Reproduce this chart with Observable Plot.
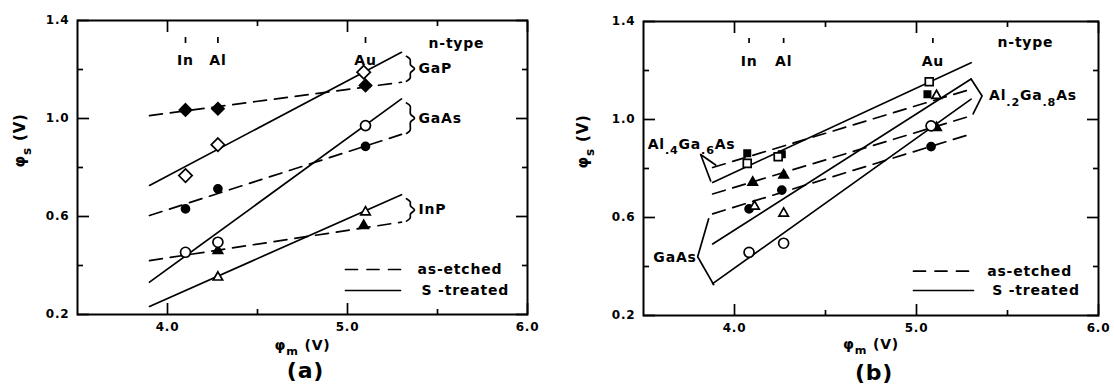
<!DOCTYPE html>
<html><head><meta charset="utf-8">
<script src="https://cdn.jsdelivr.net/npm/d3@7"></script>
<script src="https://cdn.jsdelivr.net/npm/@observablehq/plot@0.6"></script>
<style>
html,body{margin:0;padding:0;background:#fff;}
#wrap{display:flex;width:1114px;height:390px;}
#wrap svg{flex:none;font-family:"DejaVu Sans";}
#wrap svg text{letter-spacing:0.8px;}
</style></head><body><div id="wrap"></div>
<script>
// ---------------- data ----------------
const metals = ["In", "Al", "Au"];
const metalPhiA = [4.10, 4.28, 5.10];
const metalPhiB = [4.08, 4.27, 5.09];
const yTickLabels = [0.2, 0.6, 1.0, 1.4];
const yMinorTicks = [0.4, 0.8, 1.2];
const xTickLabels = [4.0, 5.0, 6.0];
const xMinorTicks = [4.5, 5.5];

// panel (a): fitted lines (x ends, then y at ends)
const fitXa = [3.90, 5.30];
const aGaP_S_fit = [0.727, 1.270];
const aGaP_E_fit = [1.012, 1.148];
const aGaAs_S_fit = [0.332, 1.080];
const aGaAs_E_fit = [0.604, 0.935];
const aInP_S_fit = [0.233, 0.689];
const aInP_E_fit = [0.420, 0.577];
// panel (a): measured points [phi_m, phi_b]
const aGaP_S = [[4.10, 0.767], [4.28, 0.893], [5.09, 1.189]];
const aGaP_E = [[4.10, 1.035], [4.28, 1.040], [5.10, 1.135]];
const aGaAs_S = [[4.10, 0.454], [4.28, 0.495], [5.10, 0.971]];
const aGaAs_E = [[4.10, 0.631], [4.28, 0.713], [5.10, 0.886]];
const aInP_S = [[4.28, 0.352], [5.10, 0.618]];
const aInP_E = [[4.28, 0.461], [5.09, 0.563]];

// panel (b): fitted lines
const fitXb = [3.88, 5.30];
const bAl4_S_fit = [0.743, 1.232];
const bAl4_E_fit = [0.804, 1.124];
const bAl2_S_fit = [0.492, 1.165];
const bAl2_E_fit = [0.696, 1.015];
const bGaAs_S_fit = [0.330, 1.083];
const bGaAs_E_fit = [0.615, 0.941];
// panel (b): measured points
const bAl4_S = [[4.07, 0.821], [4.24, 0.848], [5.07, 1.154]];
const bAl4_E = [[4.07, 0.862], [4.26, 0.858], [5.06, 1.103]];
const bAl2_S = [[4.11, 0.645], [4.27, 0.617], [5.11, 1.097]];
const bAl2_E = [[4.10, 0.743], [4.27, 0.773], [5.11, 0.967]];
const bGaAs_S = [[4.08, 0.458], [4.27, 0.495], [5.08, 0.974]];
const bGaAs_E = [[4.08, 0.635], [4.26, 0.712], [5.08, 0.889]];

// ---------------- layout ----------------
const W = 557, H = 390;
const fmt = d3.format(".1f");
const LW = 1.7;

function fitTable(xs, ys, id) { return xs.map((x, i) => ({id, x, y: ys[i]})); }
function ptTable(arr) { return arr.map(([x, y]) => ({x, y})); }

// frame + inward ticks on all four sides
function frameMarks() {
  const st = {stroke: "black", strokeWidth: LW, label: null, tickFormat: () => ""};
  const m = [Plot.frame({stroke: "black", strokeWidth: 2})];
  for (const anchor of ["left", "right"]) {
    m.push(Plot.axisY({anchor, ticks: yTickLabels, tickSize: -12, ...st}));
    m.push(Plot.axisY({anchor, ticks: yMinorTicks, tickSize: -6, ...st}));
  }
  for (const anchor of ["top", "bottom"]) {
    m.push(Plot.axisX({anchor, ticks: xTickLabels, tickSize: -11, ...st}));
    m.push(Plot.axisX({anchor, ticks: xMinorTicks, tickSize: -5, ...st}));
  }
  m.push(Plot.axisY({anchor: "left", ticks: yTickLabels, tickSize: 0, tickPadding: 8, tickFormat: fmt, label: null, fontSize: 12, fontWeight: "bold"}));
  m.push(Plot.axisX({anchor: "bottom", ticks: xTickLabels, tickSize: 0, tickPadding: 8, tickFormat: fmt, label: null, fontSize: 12, fontWeight: "bold"}));
  return m;
}

function makePanel(cfg) {
  const {ml, mr, mt, mb} = cfg;
  const sx = d3.scaleLinear([3.5, 6], [ml, W - mr]);
  const sy = d3.scaleLinear([0.2, 1.4], [H - mb, mt]);
  const P = (px, py) => ({x: sx.invert(px), y: sy.invert(py)});
  const marks = [...frameMarks()];
  // fitted lines
  const solid = cfg.fits.filter(f => !f.dashed).flatMap(f => fitTable(cfg.fitX, f.v, f.id));
  const dashed = cfg.fits.filter(f => f.dashed).flatMap(f => fitTable(cfg.fitX, f.v, f.id));
  marks.push(Plot.line(solid, {x: "x", y: "y", z: "id", stroke: "black", strokeWidth: LW}));
  marks.push(Plot.line(dashed, {x: "x", y: "y", z: "id", stroke: "black", strokeWidth: LW, strokeDasharray: "13,8"}));
  // markers
  for (const s of cfg.series) {
    marks.push(Plot.dot(ptTable(s.pts), {x: "x", y: "y", symbol: s.symbol, r: s.r, fill: s.fill, stroke: "black", strokeWidth: LW}));
  }
  // brackets
  for (const b of cfg.brackets(sx, sy)) {
    marks.push(Plot.line(b.pts.map(([px, py]) => P(px, py)), {x: "x", y: "y", stroke: "black", strokeWidth: LW, curve: b.curve || "linear"}));
    const lp = P(b.label[0], b.label[1]);
    marks.push(Plot.text([b.text], {x: () => lp.x, y: () => lp.y, text: d => d, textAnchor: b.anchor, fontSize: 14, fontWeight: "bold"}));
  }
  // metal work function markers
  const mt_ = metals.map((m, i) => ({m, x: cfg.metalPhi[i]}));
  marks.push(Plot.ruleX(mt_, {x: "x", insetTop: 17, insetBottom: (H - mb) - 43, stroke: "black", strokeWidth: LW}));
  marks.push(Plot.text(mt_, {x: "x", text: "m", frameAnchor: "top", dy: 35, fontSize: 14, fontWeight: "bold"}));
  // n-type
  marks.push(Plot.text(["n-type"], {frameAnchor: "top-right", textAnchor: "start", dx: cfg.ntype[0], dy: cfg.ntype[1], fontSize: 14, fontWeight: "bold"}));
  // legend
  const L = cfg.legend;
  marks.push(Plot.line([P(L.x1, L.y1), P(L.x2, L.y1)], {x: "x", y: "y", stroke: "black", strokeWidth: LW, strokeDasharray: "12,9.5"}));
  marks.push(Plot.line([P(L.x1, L.y2), P(L.x2, L.y2)], {x: "x", y: "y", stroke: "black", strokeWidth: LW}));
  const t1 = P(L.t1, L.y1), t2 = P(L.t2, L.y2);
  marks.push(Plot.text(["as-etched"], {x: () => t1.x, y: () => t1.y, text: d => d, textAnchor: "start", fontSize: 14, fontWeight: "bold"}));
  marks.push(Plot.text(["S -treated"], {x: () => t2.x, y: () => t2.y, text: d => d, textAnchor: "start", fontSize: 14, fontWeight: "bold"}));
  // axis titles
  marks.push(Plot.text(["φ_{s} (V)"], {frameAnchor: "left", rotate: -90, dx: cfg.ylabDx, fontSize: 15, fontWeight: "bold"}));
  marks.push(Plot.text(["φ_{m} (V)"], {frameAnchor: "bottom", dy: cfg.xlabDy, fontSize: 14, fontWeight: "bold"}));
  marks.push(Plot.text([cfg.tag], {frameAnchor: "bottom", dy: cfg.tagDy, dx: 3, fontSize: 22, fontWeight: "bold"}));
  return Plot.plot({
    width: W, height: H,
    marginLeft: ml, marginRight: mr, marginTop: mt, marginBottom: mb,
    x: {domain: [3.5, 6]}, y: {domain: [0.2, 1.4]},
    marks
  });
}

function brace(x0, yT, yB, w) {
  const m = (yT + yB) / 2;
  return [[x0, yT], [x0 + w * 0.45, yT + 3], [x0 + w * 0.5, m - 4], [x0 + w, m], [x0 + w * 0.5, m + 4], [x0 + w * 0.45, yB - 3], [x0, yB]];
}

const panelA = makePanel({
  ml: 77, mr: 30, mt: 20, mb: 76,
  fitX: fitXa,
  fits: [
    {id: "GaP S", v: aGaP_S_fit}, {id: "GaP E", v: aGaP_E_fit, dashed: true},
    {id: "GaAs S", v: aGaAs_S_fit}, {id: "GaAs E", v: aGaAs_E_fit, dashed: true},
    {id: "InP S", v: aInP_S_fit}, {id: "InP E", v: aInP_E_fit, dashed: true}
  ],
  series: [
    {pts: aGaP_E, symbol: "diamond2", fill: "black", r: 5.5},
    {pts: aGaP_S, symbol: "diamond2", fill: "white", r: 6},
    {pts: aGaAs_E, symbol: "circle", fill: "black", r: 4},
    {pts: aInP_E, symbol: "triangle2", fill: "black", r: 4.5},
    {pts: aGaAs_S, symbol: "circle", fill: "white", r: 5},
    {pts: aInP_S, symbol: "triangle2", fill: "white", r: 4.5}
  ],
  brackets: (sx, sy) => {
    const x0 = sx(5.30) + 5;
    const mk = (s, e, text) => {
      const yT = sy(s[1]) + 4, yB = sy(e[1]) - 1;
      return {pts: brace(x0, yT, yB, 8), curve: "catmull-rom", label: [x0 + 12, (yT + yB) / 2], anchor: "start", text};
    };
    return [mk(aGaP_S_fit, aGaP_E_fit, "GaP"), mk(aGaAs_S_fit, aGaAs_E_fit, "GaAs"), mk(aInP_S_fit, aInP_E_fit, "InP")];
  },
  metalPhi: metalPhiA,
  ntype: [-99, 18],
  legend: {x1: 345, x2: 400, y1: 269, y2: 290, t1: 417, t2: 421},
  ylabDx: -57, xlabDy: 35, tag: "(a)", tagDy: 63
});

const panelB = makePanel({
  ml: 86, mr: 16, mt: 21, mb: 75,
  fitX: fitXb,
  fits: [
    {id: "Al4 S", v: bAl4_S_fit}, {id: "Al4 E", v: bAl4_E_fit, dashed: true},
    {id: "Al2 S", v: bAl2_S_fit}, {id: "Al2 E", v: bAl2_E_fit, dashed: true},
    {id: "GaAs S", v: bGaAs_S_fit}, {id: "GaAs E", v: bGaAs_E_fit, dashed: true}
  ],
  series: [
    {pts: bAl4_E, symbol: "square2", fill: "black", r: 4},
    {pts: bAl4_S, symbol: "square2", fill: "white", r: 5},
    {pts: bAl2_E, symbol: "triangle2", fill: "black", r: 4.5},
    {pts: bGaAs_E, symbol: "circle", fill: "black", r: 4},
    {pts: bAl2_S, symbol: "triangle2", fill: "white", r: 4.5},
    {pts: bGaAs_S, symbol: "circle", fill: "white", r: 5}
  ],
  brackets: (sx, sy) => {
    const xs = sx(fitXb[0]), xe = sx(fitXb[1]);
    const s4 = sy(bAl4_S_fit[0]), e4 = sy(bAl4_E_fit[0]);
    const v4 = [xs - 12, e4 - 13];
    const sg = sy(bGaAs_S_fit[0]), eg = sy(bGaAs_E_fit[0]);
    const vg = [xs - 15, (sg + eg) / 2 + 8];
    const s2 = sy(bAl2_S_fit[1]), e2 = sy(bAl2_E_fit[1]);
    const v2 = [xe + 11, (s2 + e2) / 2 - 1.5];
    return [
      {pts: [[xs + 3, e4 - 2.5], v4, [xs - 2, s4 - 1.5]], label: [v4[0] - 53, v4[1] - 10], anchor: "start", text: "Al_{.4}Ga_{.6}As"},
      {pts: [[xs - 4, eg + 5], vg, [xs + 1, sg + 1]], label: [vg[0] - 1, vg[1] + 1], anchor: "end", text: "GaAs"},
      {pts: [[xe, s2], v2, [xe + 2, e2 - 2]], label: [v2[0] + 7, v2[1]], anchor: "start", text: "Al_{.2}Ga_{.8}As"}
    ];
  },
  metalPhi: metalPhiB,
  ntype: [-101, 16],
  legend: {x1: 356, x2: 416, y1: 270.7, y2: 290, t1: 429.7, t2: 434.7},
  ylabDx: -60, xlabDy: 33, tag: "(b)", tagDy: 64
});

const wrap = document.getElementById("wrap");
wrap.appendChild(panelA);
wrap.appendChild(panelB);

// subscripts: rebuild "_{...}" parts as lowered tspans
function richify(svg) {
  d3.select(svg).selectAll("text").each(function () {
    const t = this.textContent;
    if (!t.includes("_{")) return;
    const fs = parseFloat(getComputedStyle(this).fontSize) || 14;
    while (this.firstChild) this.removeChild(this.firstChild);
    const parts = t.split(/(_\{[^}]*\})/).filter(s => s.length);
    let lowered = false;
    for (const p of parts) {
      const ts = document.createElementNS("http://www.w3.org/2000/svg", "tspan");
      if (p.startsWith("_{")) {
        ts.textContent = p.slice(2, -1);
        ts.setAttribute("font-size", (fs * 0.8).toFixed(1));
        ts.setAttribute("dy", (fs * 0.38).toFixed(1));
        lowered = true;
      } else {
        ts.textContent = p;
        if (lowered) { ts.setAttribute("dy", (-fs * 0.38).toFixed(1)); lowered = false; }
      }
      this.appendChild(ts);
    }
  });
}
richify(panelA);
richify(panelB);
</script>
</body></html>
